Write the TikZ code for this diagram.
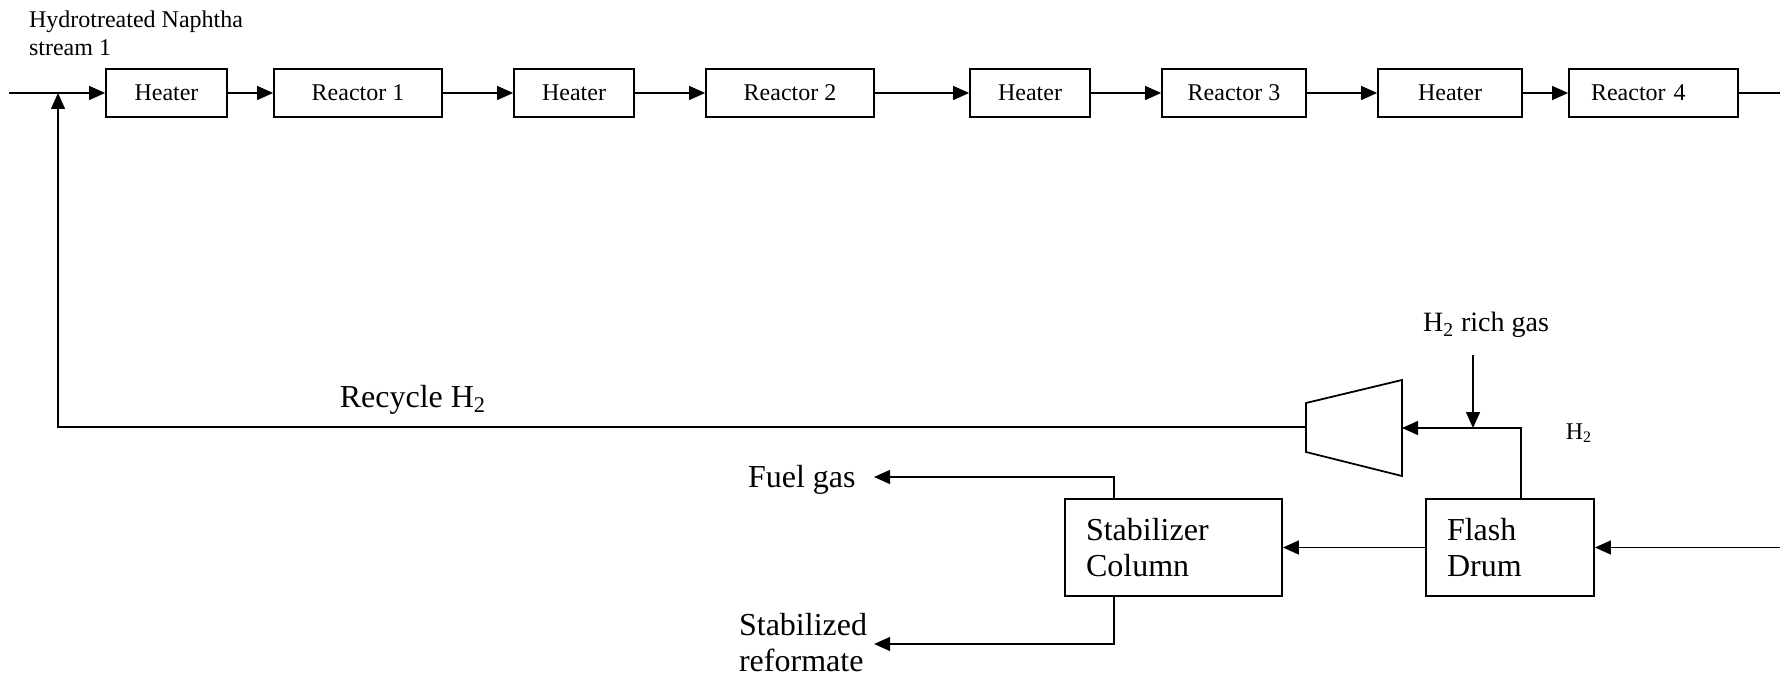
\documentclass[tikz,border=0pt]{standalone}
\usepackage{fontspec}
\setmainfont{Liberation Serif}
\usetikzlibrary{positioning,arrows.meta}

\begin{document}
\begin{tikzpicture}[x=0.5pt,y=-0.5pt,
  unit/.style={draw,line width=0.9pt,minimum height=24pt,inner sep=0pt,
    font=\fontsize{12}{14}\selectfont},
  vessel/.style={draw,line width=0.9pt,minimum height=48.5pt,inner xsep=10.5pt,
    inner ysep=0pt,align=left,font=\fontsize{16}{18}\selectfont},
  flow/.style={line width=0.65pt,-{Triangle[length=8pt,width=7pt]}},
  pipe/.style={line width=0.65pt}]
  \useasboundingbox (0,0) rectangle (1780,678);
  % — reactor train
  \node[unit,minimum width=60.5pt] (heatA) at (166.5,93) {Heater};
  \node[unit,minimum width=84pt] (reacA) at (358,93) {Reactor 1};
  \node[unit,minimum width=60pt] (heatB) at (574,93) {Heater};
  \node[unit,minimum width=84pt] (reacB) at (790,93) {Reactor 2};
  \node[unit,minimum width=60pt] (heatC) at (1030,93) {Heater};
  \node[unit,minimum width=72pt] (reacC) at (1234,93) {Reactor 3};
  \node[unit,minimum width=72pt] (heatD) at (1450,93) {Heater};
  \node[unit,inner xsep=11pt,text width=62.5pt,align=left] (reacD) at (1653.5,93) {Reactor 4};
  \node[anchor=west,align=left,font=\fontsize{12}{14}\selectfont] (naph) at (22,33) {Hydrotreated Naphtha\\stream 1};
  \coordinate (feed) at (9,93);
  \coordinate (prodout) at (1780,93);
  \draw[flow] (feed) -- (heatA.west);
  \foreach \a/\b in {heatA/reacA,reacA/heatB,heatB/reacB,reacB/heatC,heatC/reacC,reacC/heatD,heatD/reacD}
    \draw[flow] (\a.east) -- (\b.west);
  \draw[pipe] (reacD.east) -- (prodout);
  % — separation
  \node[vessel,text width=87.5pt] (stab) at (1173.5,547.5) {Stabilizer\\Column};
  \node[vessel,text width=63pt] (flash) at (1510,547.5) {Flash\\Drum};
  \coordinate (sepin) at (1780,547.5);
  \draw[flow] (sepin) -- (flash.east);
  \draw[flow] (flash.west) -- (stab.east);
  \node[anchor=east,inner xsep=9pt,font=\fontsize{16}{18}\selectfont] (fuel) at (874,480) {Fuel gas};
  \node[anchor=west,align=left,font=\fontsize{16}{18}\selectfont] (refm) at (732,643) {Stabilized\\reformate};
  \coordinate (fuelturn) at (1114,477);
  \coordinate (refturn) at (1114,644);
  \draw[flow] (stab.north -| fuelturn) -- (fuelturn) -- (fuelturn -| fuel.east);
  \draw[flow] (stab.south -| refturn) -- (refturn) -- (refturn -| refm.east);
  % — compressor and recycle
  \coordinate (compLT) at (1306,403);
  \coordinate (compLB) at (1306,452);
  \coordinate (compRT) at (1402,380);
  \coordinate (compRB) at (1402,476);
  \coordinate (compL) at (1306,427);
  \coordinate (compR) at (1402,428);
  \draw[line width=0.9pt] (compLT) -- (compRT) -- (compRB) -- (compLB) -- cycle;
  \coordinate (tee) at (1521,428);
  \coordinate (join) at (1473,428);
  \coordinate (richin) at (1473,355);
  \draw[flow] (tee |- flash.north) -- (tee) -- (compR);
  \draw[flow] (richin) -- (join);
  \node[font=\fontsize{14}{16}\selectfont] (richgas) at (1486,325) {H\textsubscript{2} rich gas};
  \node[font=\fontsize{12}{14}\selectfont] (htwo) at (1579,433) {H\textsubscript{2}};
  \coordinate (recyc) at (58,427);
  \coordinate (mix) at (58,93);
  \draw[flow] (compL) -- (recyc) -- (mix);
  \node[font=\fontsize{16}{18}\selectfont] (recyclbl) at (413,400) {Recycle H\textsubscript{2}};
\end{tikzpicture}
\end{document}
